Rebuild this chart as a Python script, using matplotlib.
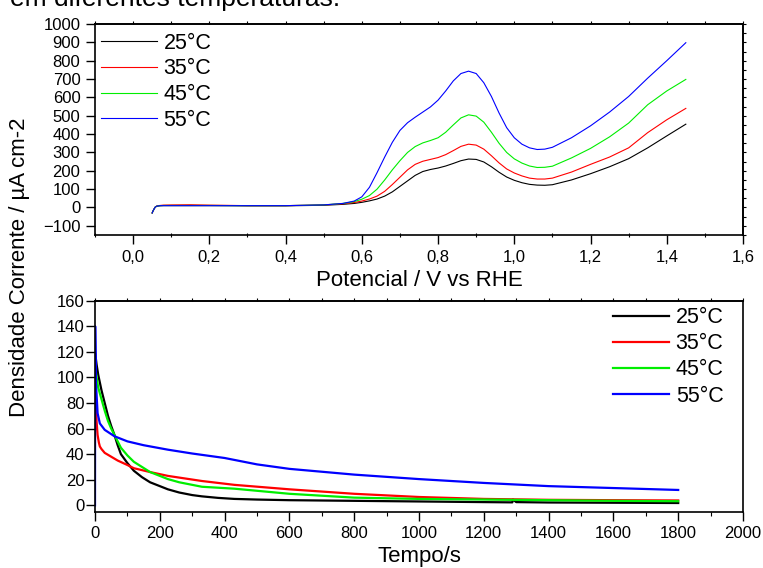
import matplotlib
matplotlib.use("Agg")
import matplotlib.pyplot as plt
from matplotlib.ticker import MultipleLocator, FuncFormatter

plt.rcParams['font.family'] = ['Liberation Sans', 'DejaVu Sans']

labels = ['25°C', '35°C', '45°C', '55°C']
colors = ['#000000', '#ff0000', '#00ee00', '#0000ff']

# voltammetry (top)
potential = [0.05, 0.052, 0.055, 0.058, 0.062, 0.07, 0.08, 0.1, 0.15, 0.2, 0.3, 0.4, 0.5,
             0.55, 0.58, 0.6, 0.62, 0.64, 0.66, 0.68, 0.7, 0.72, 0.74, 0.76, 0.78, 0.8,
             0.82, 0.84, 0.86, 0.88, 0.9, 0.92, 0.94, 0.96, 0.98, 1.0, 1.02, 1.04, 1.06,
             1.08, 1.1, 1.15, 1.2, 1.25, 1.3, 1.35, 1.4, 1.45]
cv_25 = [-30, -20, -8, 2, 7, 9, 10, 10, 10, 10, 9, 9, 12,
         17, 22, 28, 36, 46, 62, 85, 115, 145, 175, 196, 207, 215,
         226, 240, 255, 264, 262, 248, 222, 192, 166, 148, 135, 126, 122,
         121, 124, 150, 184, 222, 266, 325, 390, 454]
cv_35 = [-30, -20, -8, 2, 8, 11, 13, 14, 15, 13, 10, 10, 14,
         20, 27, 35, 46, 62, 88, 125, 165, 205, 235, 252, 262, 272,
         288, 310, 333, 345, 340, 318, 282, 243, 210, 188, 172, 160, 155,
         155, 160, 193, 235, 275, 325, 408, 478, 540]
cv_45 = [-30, -20, -8, 2, 7, 10, 11, 11, 11, 11, 10, 10, 14,
         22, 32, 45, 65, 100, 150, 205, 255, 300, 332, 352, 365, 380,
         410, 450, 488, 505, 498, 465, 410, 350, 300, 265, 242, 226, 218,
         219, 225, 270, 322, 385, 460, 560, 635, 698]
cv_55 = [-30, -20, -8, 2, 7, 10, 10, 10, 10, 10, 10, 10, 14,
         22, 35, 58, 110, 190, 275, 355, 420, 462, 492, 520, 548, 585,
         635, 690, 730, 743, 730, 680, 605, 515, 435, 380, 345, 325, 316,
         318, 328, 380, 445, 520, 605, 705, 800, 898]

# chronoamperometry (bottom)
t_25 = [1, 5, 10, 20, 30, 40, 50, 60, 70, 80, 100, 120, 145, 170, 200, 225, 260, 300, 330,
        380, 430, 500, 600, 800, 1000, 1200, 1288, 1290, 1300, 1400, 1600, 1800]
ca_25 = [118, 110, 102, 90, 80, 70, 62, 55, 47, 40, 33, 27, 22, 18, 15, 12.5, 10, 8, 7,
         5.8, 5, 4.5, 4, 3.5, 3, 2.5, 2.3, 4.5, 2.5, 2.2, 2, 1.8]
t_35 = [1, 3, 5, 8, 12, 15, 20, 30, 50, 70, 100, 120, 170, 225, 330, 430, 600, 800, 1000,
        1200, 1400, 1600, 1800]
ca_35 = [60, 78, 65, 55, 49, 46, 44, 41, 38, 35, 31.5, 29, 26, 23, 19, 16, 12.5, 9, 6.5,
         5, 4.3, 4, 3.8]
t_45 = [1, 5, 10, 20, 30, 40, 50, 60, 80, 100, 120, 145, 170, 200, 225, 260, 330, 430, 600,
        800, 1000, 1200, 1400, 1600, 1800]
ca_45 = [108, 100, 92, 83, 74, 66, 60, 55, 45, 39, 34, 30, 26, 23, 20.5, 18, 14.5, 13, 9,
         6, 5, 4.5, 4, 3.5, 3.2]
t_55 = [0, 0.5, 3, 8, 15, 30, 60, 100, 150, 225, 300, 400, 450, 500, 600, 800, 1000, 1200,
        1400, 1600, 1800]
ca_55 = [0, 140, 95, 72, 64, 59, 54, 50, 47, 43.5, 40.5, 37, 34.5, 32, 28.5, 24, 20.5, 17.5,
         15, 13.5, 12]

W, H = 763, 568
fig = plt.figure(figsize=(W / 100, H / 100), dpi=100)

ax1 = fig.add_axes([95 / W, 1 - 235 / H, 648 / W, 211 / H])
ax2 = fig.add_axes([95 / W, 1 - 511.7 / H, 648 / W, 211 / H])

for ys, c, lab in zip([cv_25, cv_35, cv_45, cv_55], colors, labels):
    ax1.plot(potential, ys, color=c, lw=0.8, label=lab)

for ts, ys, c, lab in zip([t_25, t_35, t_45, t_55], [ca_25, ca_35, ca_45, ca_55], colors, labels):
    ax2.plot(ts, ys, color=c, lw=1.6, label=lab)

comma = FuncFormatter(lambda v, p: f"{v:.1f}".replace('.', ','))

ax1.set_xlim(-0.1, 1.6)
ax1.set_ylim(-150, 1000)
ax1.xaxis.set_major_locator(MultipleLocator(0.2))
ax1.xaxis.set_minor_locator(MultipleLocator(0.1))
ax1.xaxis.set_major_formatter(comma)
ax1.yaxis.set_major_locator(MultipleLocator(100))
ax1.tick_params(axis='both', which='major', direction='out', length=6.5, width=1.0, labelsize=12)
ax1.tick_params(axis='x', which='minor', direction='inout', length=3, width=0.8)
ax1.tick_params(axis='x', which='major', pad=4)
ax1.tick_params(axis='y', which='major', pad=4)
ax1.set_xlabel('Potencial / V vs RHE', fontsize=16, labelpad=4)

ax2.set_xlim(0, 2000)
ax2.set_ylim(-5, 160)
ax2.xaxis.set_major_locator(MultipleLocator(200))
ax2.xaxis.set_minor_locator(MultipleLocator(100))
ax2.yaxis.set_major_locator(MultipleLocator(20))
ax2.tick_params(axis='both', which='major', direction='out', length=6.5, width=1.0, labelsize=12)
ax2.tick_params(axis='x', which='minor', direction='out', length=3, width=0.8)
ax2.tick_params(axis='y', which='major', pad=1)
ax2.tick_params(axis='x', which='major', pad=4)
ax2.set_xlabel('Tempo/s', fontsize=16, labelpad=3.5)

# small mirrored ticks on top/right like the original
top1 = ax1.secondary_xaxis('top')
top1.xaxis.set_major_locator(MultipleLocator(0.1))
top1.tick_params(direction='out', length=2.5, width=0.8, labeltop=False)
right1 = ax1.secondary_yaxis('right')
right1.yaxis.set_major_locator(MultipleLocator(50))
right1.tick_params(direction='out', length=2, width=0.8, labelright=False)
top2 = ax2.secondary_xaxis('top')
top2.xaxis.set_major_locator(MultipleLocator(100))
top2.tick_params(direction='out', length=2.5, width=0.8, labeltop=False)

for ax in (ax1, ax2, top1, right1, top2):
    for s in ax.spines.values():
        s.set_linewidth(1.2)

ax1.legend(loc='upper left', bbox_to_anchor=(-0.004, 1.0), frameon=False, fontsize=15.5,
           handlelength=2.6, handletextpad=0.3, labelspacing=0.22, borderpad=0.4, borderaxespad=0.0)
ax2.legend(loc='upper right', bbox_to_anchor=(0.98, 1.0), frameon=False, fontsize=15.5,
           handlelength=2.6, handletextpad=0.3, labelspacing=0.24, borderpad=0.3, borderaxespad=0.0)

fig.text(20 / W, 1 - 267 / H, 'Densidade Corrente / µA cm-2', rotation=90,
         ha='center', va='center', fontsize=16)
fig.text(10 / W, 1 - 6 / H, 'em diferentes temperaturas.', ha='left', va='baseline', fontsize=19)

fig.savefig('out.png', dpi=100)
